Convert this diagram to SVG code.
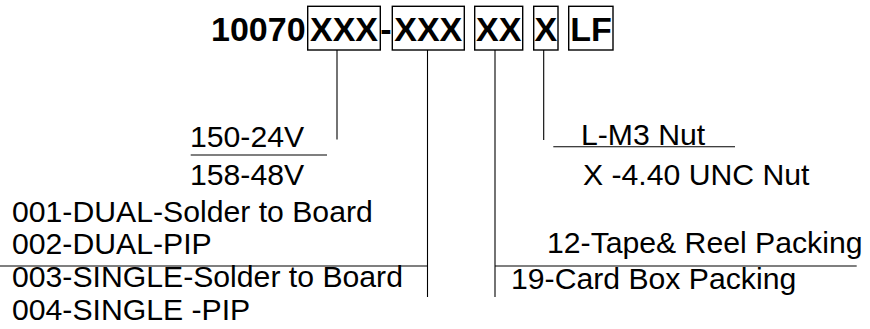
<svg xmlns="http://www.w3.org/2000/svg" width="870" height="329" viewBox="0 0 870 329">
<style>
.t{font-family:"Liberation Sans",Arial,sans-serif;font-size:30.2px;fill:#000}
.b{font-family:"Liberation Sans",Arial,sans-serif;font-size:34px;font-weight:bold;fill:#000}
.box{fill:none;stroke:#000;stroke-width:1.4}
.ln{stroke:#000;stroke-width:1.1;fill:none}
</style>
<rect width="870" height="329" fill="#fff"/>
<g id="header">
<text class="b" x="211" y="40.7">10070</text>
<text class="b" x="386" y="40.7" text-anchor="middle">-</text>
</g>
<g id="box1"><rect class="box" x="307.7" y="6.3" width="72.6" height="43.7"/><text class="b" x="344" y="40.7" text-anchor="middle">XXX</text></g>
<g id="box2"><rect class="box" x="392.3" y="6.3" width="72" height="43.7"/><text class="b" x="428.3" y="40.7" text-anchor="middle">XXX</text></g>
<g id="box3"><rect class="box" x="474.7" y="6.3" width="48" height="43.7"/><text class="b" x="498.7" y="40.7" text-anchor="middle">XX</text></g>
<g id="box4"><rect class="box" x="533.7" y="6.3" width="24.3" height="43.7"/><text class="b" x="545.9" y="40.7" text-anchor="middle">X</text></g>
<g id="box5"><rect class="box" x="568.7" y="6.3" width="44.3" height="43.7"/><text class="b" x="590.9" y="40.7" text-anchor="middle">LF</text></g>
<g id="connectors">
<line class="ln" x1="337" y1="50" x2="337" y2="139.5"/>
<line class="ln" x1="427.5" y1="50" x2="427.5" y2="297"/>
<line class="ln" x1="495" y1="50" x2="495" y2="297"/>
<line class="ln" x1="543.7" y1="50" x2="543.7" y2="140"/>
<line class="ln" x1="190.7" y1="155" x2="327" y2="155"/>
<line class="ln" x1="553.3" y1="146.7" x2="735" y2="146.7"/>
<line class="ln" x1="0" y1="266" x2="427.5" y2="266"/>
<line class="ln" x1="495" y1="266" x2="856.7" y2="266"/>
</g>
<g id="voltage">
<text class="t" x="190" y="147.3">150-24V</text>
<text class="t" x="190" y="185">158-48V</text>
</g>
<g id="nut">
<text class="t" x="581" y="145">L-M3 Nut</text>
<text class="t" x="583" y="185">X -4.40 UNC Nut</text>
</g>
<g id="mount">
<text class="t" x="12" y="221.7">001-DUAL-Solder to Board</text>
<text class="t" x="12" y="254.3">002-DUAL-PIP</text>
<text class="t" x="12" y="287">003-SINGLE-Solder to Board</text>
<text class="t" x="12" y="320">004-SINGLE -PIP</text>
</g>
<g id="packing">
<text class="t" x="547" y="253.3">12-Tape&amp; Reel Packing</text>
<text class="t" x="511" y="289.3">19-Card Box Packing</text>
</g>
</svg>
